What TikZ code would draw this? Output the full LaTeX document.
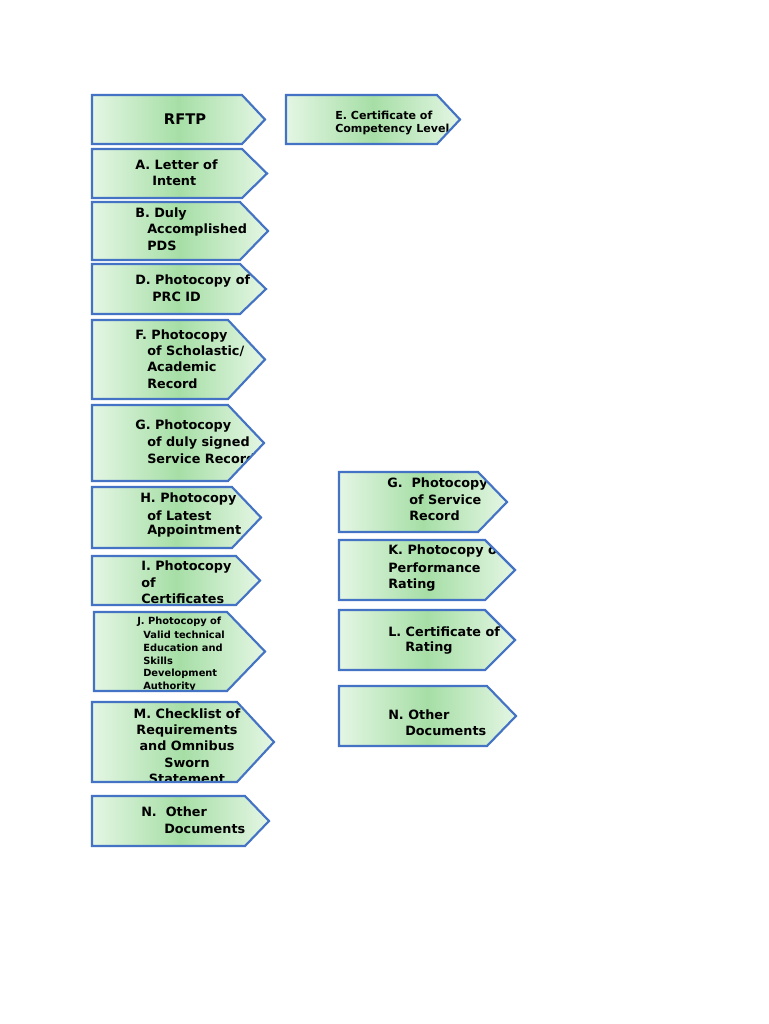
\documentclass[tikz,border=0pt]{standalone}
\usepackage{fontspec}
\setmainfont{DejaVu Sans}
\definecolor{bord}{HTML}{4472C4}
\definecolor{gl}{HTML}{E4F6E4}
\definecolor{gm}{HTML}{A6DEA6}
\tikzset{
 lbl/.style={font=\bfseries\fontsize{9.6}{11}\selectfont, inner sep=0pt, anchor=west, text=black},
 sm/.style={font=\bfseries\fontsize{8.3}{10}\selectfont, inner sep=0pt, anchor=west},
 tn/.style={font=\bfseries\fontsize{7.4}{9}\selectfont, inner sep=0pt, anchor=west},
 bx/.style={draw=bord, line width=1.6pt, line join=miter}
}
\newcommand\arshape[5]{(#1,#2) -- (#3,#2) -- (#5,{(#2+#4)/2}) -- (#3,#4) -- (#1,#4) -- cycle}
\newcommand\abox[6]{%
 \shade[left color=gl, right color=gl, middle color=gm] \arshape{#1}{#2}{#3}{#4}{#5};
 \begin{scope}\clip \arshape{#1}{#2}{#3}{#4}{#5}; #6 \end{scope}
 \draw[bx] \arshape{#1}{#2}{#3}{#4}{#5};}
\newcommand\tl[4][lbl]{\node[#1] at (#2,#3) {#4};}
\begin{document}
\begin{tikzpicture}[x=0.75pt,y=-0.75pt]
\useasboundingbox (0,0) rectangle (768,1024);
\fill[white] (0,0) rectangle (768,1024);
\abox{92}{95}{242}{144}{265}{\node[font=\bfseries\fontsize{11}{13}\selectfont] at (185,119) {RFTP};}
\abox{286}{95}{437}{144}{460}{\tl[sm]{335}{115}{E. Certificate of}\tl[sm]{335}{129}{Competency Level}}
\abox{92}{149}{242}{198}{267}{\tl{135}{165}{A. Letter of}\tl{152}{181}{Intent}}
\abox{92}{202}{240}{260}{268}{\tl{135}{214}{B. Duly}\tl{147}{230}{Accomplished}\tl{147}{246}{PDS}}
\abox{92}{264}{240}{314}{266}{\tl{135}{281}{D. Photocopy of}\tl{152}{297}{PRC ID}}
\abox{92}{320}{228}{399}{265}{\tl{135}{336}{F. Photocopy}\tl{147}{351}{of Scholastic/}\tl{147}{367}{Academic}\tl{147}{384}{Record}}
\abox{92}{405}{228}{481}{264}{\tl{135}{426}{G. Photocopy}\tl{147}{443}{of duly signed}\tl{147}{459}{Service Record}}
\abox{92}{487}{232}{548}{261}{\tl{140}{499}{H. Photocopy}\tl{147}{516}{of Latest}\tl{147}{531}{Appointment}}
\abox{92}{556}{236}{605}{260}{\tl{141}{567}{I. Photocopy}\tl{141}{583}{of}\tl{141}{599}{Certificates}}
\abox{94}{612}{227}{691}{265}{\tl[tn]{137}{622}{J. Photocopy of}\tl[tn]{143}{635}{Valid technical}\tl[tn]{143}{648}{Education and}\tl[tn]{143}{661}{Skills}\tl[tn]{143}{674}{Development}\tl[tn]{143}{687}{Authority}}
\abox{92}{702}{237}{782}{274}{%
 \foreach \t/\y in {M. Checklist of/714, Requirements/731, and Omnibus/746, Sworn/763, Statement/779}
 {\node[lbl,anchor=center] at (187,\y) {\t};}}
\abox{92}{796}{245}{846}{269}{\tl{141}{812}{N.\ \ Other}\tl{164}{829}{Documents}}
\abox{339}{472}{478}{532}{507}{\tl{387}{484}{G.\ \ Photocopy}\tl{409}{500}{of Service}\tl{409}{516}{Record}}
\abox{339}{540}{485}{600}{515}{\tl{388}{551}{K. Photocopy of}\tl{388}{568}{Performance}\tl{388}{585}{Rating}}
\abox{339}{610}{485}{670}{515}{\tl{388}{632}{L. Certificate of}\tl{405}{648}{Rating}}
\abox{339}{686}{487}{746}{516}{\tl{388}{715}{N. Other}\tl{405}{731}{Documents}}
\end{tikzpicture}
\end{document}
